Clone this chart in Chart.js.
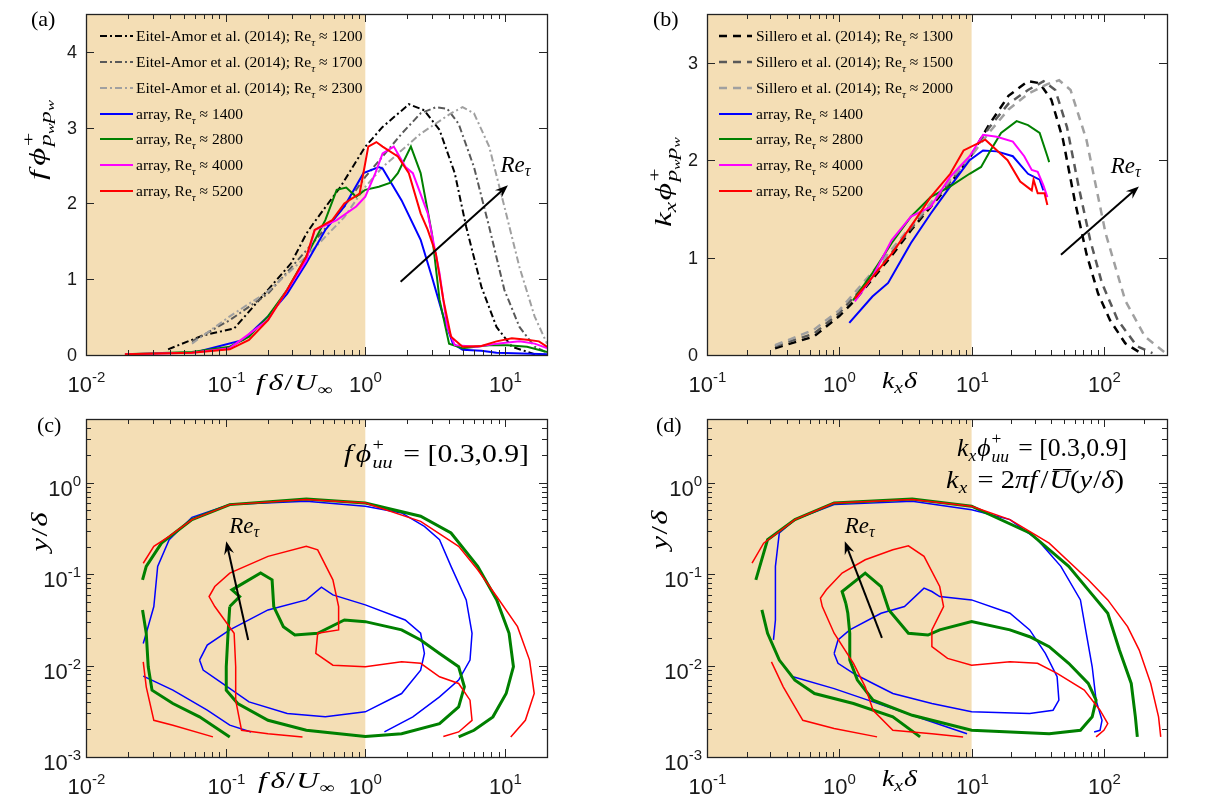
<!DOCTYPE html>
<html><head><meta charset="utf-8">
<script src="https://cdn.jsdelivr.net/npm/chart.js@4.4.1/dist/chart.umd.min.js"></script>
<style>
html,body{margin:0;padding:0;background:#fff;}
body{width:1213px;height:807px;overflow:hidden;position:relative;}
canvas{position:absolute;}
</style></head>
<body>
<canvas id="ca" width="606" height="403" style="left:0;top:0"></canvas>
<canvas id="cb" width="607" height="403" style="left:606px;top:0"></canvas>
<canvas id="cc" width="606" height="404" style="left:0;top:403px"></canvas>
<canvas id="cd" width="607" height="404" style="left:606px;top:403px"></canvas>
<script>
// ---------------- DATA ----------------
// Panel (a): f*phi_pwpw vs f*delta/U_inf
const a_e1200_x = [0.0387,0.0692,0.115,0.201,0.294,0.378,0.434,0.665,1.0,1.33,1.94,2.05,2.64,3.40,4.37,5.28,6.78,8.7,11.2,16.3,20];
const a_e1200_y = [0.075,0.26,0.35,0.86,1.21,1.60,1.76,2.22,2.75,3.01,3.27,3.31,3.23,2.97,2.40,1.69,0.90,0.37,0.11,0.01,0.0];
const a_e1700_x = [0.0574,0.107,0.201,0.378,0.708,1.0,1.33,1.82,2.49,3.20,3.86,4.66,6.0,7.71,9.9,12.7,16.3,20];
const a_e1700_y = [0.18,0.46,0.81,1.38,1.96,2.35,2.62,2.92,3.19,3.27,3.25,3.05,2.48,1.69,0.86,0.37,0.11,0.03];
const a_e2300_x = [0.0574,0.107,0.201,0.378,0.708,1.0,1.33,2.49,4.11,4.97,6.0,7.71,9.9,12.7,16.3,20];
const a_e2300_y = [0.15,0.51,0.84,1.30,1.82,2.22,2.48,2.92,3.19,3.27,3.19,2.75,1.96,1.16,0.51,0.15];
const a_r1400_x = [0.0672,0.134,0.201,0.276,0.378,0.517,0.708,0.97,1.25,1.33,1.82,2.49,3.0,3.62,4.24,4.97,6.78,8.7,20];
const a_r1400_y = [0.057,0.2,0.51,0.81,1.21,1.65,1.96,2.40,2.48,2.46,2.04,1.52,1.03,0.51,0.15,0.07,0.057,0.03,0.01];
const a_r2800_x = [0.019,0.0574,0.107,0.147,0.201,0.276,0.378,0.517,0.624,0.73,0.86,1.0,1.25,1.5,1.71,2.12,2.49,3.0,3.4,3.98,4.97,7.71,10.5,14.4,20];
const a_r2800_y = [0.01,0.04,0.11,0.24,0.51,0.86,1.30,1.78,2.18,2.21,2.09,2.18,2.22,2.27,2.40,2.75,2.40,1.60,0.73,0.15,0.09,0.13,0.13,0.11,0.04];
const a_r4000_x = [0.019,0.0574,0.107,0.201,0.378,0.434,0.624,0.86,1.0,1.18,1.33,1.60,1.94,2.19,2.8,3.4,3.86,4.37,6.3,8.7,12.7,16.3,20];
const a_r4000_y = [0.01,0.03,0.09,0.46,1.25,1.65,1.78,1.96,2.09,2.40,2.66,2.75,2.48,2.40,1.87,1.08,0.37,0.13,0.11,0.15,0.18,0.15,0.09];
const a_r5200_x = [0.019,0.0574,0.107,0.147,0.201,0.276,0.378,0.434,0.58,0.708,0.91,1.05,1.2,1.33,1.71,2.05,2.49,2.8,3.2,3.62,4.11,4.97,6.78,8.7,11.2,14.4,17.5,20];
const a_r5200_y = [0.01,0.03,0.075,0.2,0.46,0.86,1.30,1.65,1.78,2.0,2.13,2.75,2.81,2.75,2.62,2.40,1.87,1.65,1.34,0.73,0.24,0.11,0.12,0.18,0.22,0.2,0.18,0.11];

// Panel (b): kx*phi_pwpw vs kx*delta
const b_s1300_x = [0.327,0.644,1.0,1.29,1.78,2.49,3.48,4.9,6.9,9.66,13.5,19.0,26.7,32.7,40.1,49.1,60.1,73.8,90.4,111,145,190];
const b_s1300_y = [0.07,0.19,0.40,0.55,0.78,1.02,1.28,1.52,1.76,2.02,2.36,2.66,2.81,2.79,2.62,2.21,1.59,1.04,0.63,0.36,0.12,0.02];
const b_s1500_x = [0.327,0.644,1.0,1.78,3.48,6.9,9.66,13.5,19.0,26.7,35.0,42.9,52.6,64.4,78.8,96.6,127,178,233];
const b_s1500_y = [0.09,0.22,0.43,0.80,1.30,1.78,2.02,2.33,2.58,2.72,2.81,2.72,2.34,1.73,1.18,0.74,0.36,0.09,0.02];
const b_s2000_x = [0.327,0.644,1.0,1.78,6.9,9.66,13.5,19.0,26.7,37.4,45.9,56.0,73.8,103,145,204,286];
const b_s2000_y = [0.10,0.26,0.46,0.85,1.80,2.02,2.28,2.52,2.68,2.78,2.82,2.72,2.21,1.25,0.56,0.19,0.03];
const b_r1400_x = [1.19,1.78,2.34,3.48,4.9,6.9,9.66,12.2,15.5,20.5,26.7,32.7,34.9];
const b_r1400_y = [0.33,0.60,0.74,1.15,1.45,1.73,2.0,2.10,2.09,2.04,1.86,1.80,1.69];
const b_r2800_x = [1.27,1.78,2.49,3.48,4.9,6.9,9.66,11.8,13.5,16.7,21.9,26.7,32.7,37.4,38.6];
const b_r2800_y = [0.56,0.84,1.15,1.42,1.62,1.73,1.86,1.93,2.07,2.28,2.40,2.36,2.28,2.04,1.98];
const b_r4000_x = [1.31,1.78,2.49,3.48,4.9,6.9,9.66,12.2,15.5,20.5,25,28.5,31.6,34.9,37.4];
const b_r4000_y = [0.55,0.80,1.18,1.42,1.52,1.83,2.04,2.26,2.24,2.19,2.04,1.90,1.88,1.74,1.62];
const b_r5200_x = [1.31,1.78,2.49,3.48,4.9,6.9,8.7,12.7,18.7,23.3,28.5,29.4,31.6,35.6,37.4];
const b_r5200_y = [0.58,0.80,1.04,1.32,1.62,1.86,2.10,2.21,2.0,1.78,1.69,1.80,1.66,1.66,1.54];

// Panel (c): contours y/delta vs f*delta/U_inf  ([x, y] pairs)
const c_blueOuter = [[0.0257,0.0175],[0.027,0.0226],[0.0306,0.0443],[0.0326,0.122],[0.0394,0.239],[0.0574,0.42],[0.107,0.58],[0.378,0.63],[1.0,0.555],[1.82,0.469],[2.65,0.334],[3.40,0.239],[4.11,0.122],[5.28,0.0524],[5.81,0.0226],[5.62,0.0115],[4.66,0.00694],[3.40,0.00455],[2.19,0.00275],[1.37,0.00188]];
const c_blueLower = [[0.0257,0.00767],[0.0419,0.00539],[0.0738,0.00325],[0.107,0.00223],[0.152,0.00188]];
const c_blueInner = [[0.065,0.0115],[0.0738,0.0168],[0.107,0.0246],[0.201,0.0407],[0.378,0.0524],[0.485,0.0722],[0.586,0.0594],[1.0,0.0462],[1.93,0.0316],[2.49,0.0226],[2.65,0.0136],[2.49,0.00893],[1.82,0.00495],[1.0,0.00312],[0.517,0.00275],[0.276,0.00299],[0.147,0.00401],[0.0948,0.00638],[0.069,0.00893],[0.065,0.0115]];
const c_greenOuter = [[0.0254,0.0869],[0.027,0.122],[0.0347,0.219],[0.0574,0.396],[0.107,0.578],[0.378,0.667],[1.0,0.603],[2.49,0.431],[4.11,0.283],[6.38,0.122],[8.73,0.0524],[10.7,0.0226],[11.5,0.00972],[10.2,0.00495],[8.2,0.00275],[6.0,0.00196],[4.66,0.00166]];
const c_greenLower = [[0.0254,0.0407],[0.027,0.0226],[0.0279,0.00972],[0.0297,0.00539],[0.0419,0.00385],[0.065,0.00275],[0.107,0.00166]];
const c_greenInner = [[0.107,0.0443],[0.126,0.057],[0.111,0.0675],[0.178,0.103],[0.215,0.0869],[0.221,0.0443],[0.259,0.0267],[0.313,0.0216],[0.456,0.0226],[0.708,0.0316],[1.0,0.0303],[1.82,0.0246],[2.49,0.0191],[3.40,0.0136],[4.66,0.00972],[5.12,0.00586],[4.66,0.00354],[3.40,0.00232],[1.82,0.0018],[1.0,0.00168],[0.378,0.00196],[0.201,0.00252],[0.122,0.00385],[0.101,0.00539],[0.101,0.00972],[0.104,0.0226],[0.107,0.0443]];
const c_redOuter = [[0.0257,0.132],[0.0306,0.202],[0.0394,0.26],[0.0574,0.396],[0.107,0.578],[0.378,0.656],[1.0,0.603],[2.49,0.379],[4.66,0.202],[6.38,0.112],[8.73,0.057],[12.3,0.0267],[15.0,0.0115],[16.2,0.00495],[14.0,0.00252],[11.0,0.00166]];
const c_redLower = [[0.0257,0.011],[0.027,0.00586],[0.0306,0.00252],[0.0419,0.00223],[0.0811,0.00166]];
const c_redInner = [[0.355,0.00166],[0.201,0.0018],[0.130,0.00196],[0.118,0.00419],[0.118,0.00972],[0.115,0.0226],[0.0836,0.0443],[0.0761,0.057],[0.0836,0.0734],[0.107,0.103],[0.201,0.157],[0.378,0.202],[0.456,0.185],[0.586,0.0869],[0.644,0.0443],[0.644,0.0246],[0.456,0.0226],[0.442,0.0136],[0.586,0.0101],[1.0,0.00972],[1.82,0.011],[2.49,0.0106],[3.40,0.00755],[4.66,0.00638],[5.62,0.00419],[5.81,0.00252],[4.66,0.00188],[3.62,0.00168]];

// Panel (d): contours y/delta vs kx*delta
const d_blueOuter = [[0.318,0.0191],[0.329,0.0316],[0.329,0.122],[0.352,0.283],[0.462,0.396],[0.914,0.578],[3.56,0.63],[10,0.509],[19.5,0.396],[31.5,0.239],[47.3,0.122],[66.5,0.0524],[73.6,0.0226],[81.6,0.00972],[87.3,0.00419],[96.8,0.00252],[93.5,0.00196],[84.4,0.00188]];
const d_blueLower = [[0.447,0.00755],[0.914,0.0056],[1.80,0.00401],[3.56,0.00286],[7.04,0.00205],[9.24,0.0018]];
const d_blueInner = [[0.914,0.0136],[0.978,0.0191],[1.20,0.0246],[2.07,0.0374],[3.11,0.0443],[4.37,0.0704],[5.01,0.0647],[5.74,0.057],[10,0.0524],[19.5,0.0374],[27.5,0.0246],[36.1,0.0136],[44.3,0.00755],[45.7,0.00419],[41.3,0.00325],[27.5,0.00299],[10,0.00312],[5.01,0.00385],[2.54,0.00495],[1.80,0.00638],[1.28,0.00821],[0.978,0.0106],[0.914,0.0136]];
const d_greenOuter = [[0.234,0.0869],[0.287,0.239],[0.462,0.396],[0.914,0.603],[3.56,0.667],[10,0.555],[27.5,0.283],[54.2,0.122],[76.2,0.0675],[107,0.0374],[131,0.0148],[161,0.00638],[173,0.00275],[179,0.00166]];
const d_greenLower = [[0.26,0.0407],[0.287,0.0226],[0.352,0.0115],[0.462,0.00694],[0.65,0.00495],[1.28,0.00385],[2.54,0.00275],[4.08,0.00166]];
const d_greenInner = [[1.12,0.0482],[1.05,0.0647],[1.57,0.103],[2.07,0.0734],[2.37,0.0407],[3.33,0.0226],[4.68,0.0216],[5.74,0.0246],[10,0.0303],[19.5,0.0246],[27.5,0.0207],[38.6,0.0161],[54.2,0.0106],[76.2,0.00638],[87.3,0.00419],[81.6,0.00275],[66.5,0.00196],[38.6,0.0018],[10,0.00196],[3.56,0.00286],[1.80,0.00419],[1.37,0.00694],[1.20,0.0115],[1.20,0.0226],[1.16,0.0374],[1.12,0.0482]];
const d_redOuter = [[0.219,0.132],[0.268,0.219],[0.462,0.396],[0.914,0.603],[3.56,0.656],[10,0.555],[19.5,0.396],[38.6,0.219],[76.2,0.0869],[107,0.0524],[151,0.0267],[185,0.0148],[226,0.00638],[259,0.00275],[269,0.00166]];
const d_redLower = [[0.307,0.011],[0.377,0.00586],[0.53,0.00252],[0.914,0.00205],[1.93,0.00166]];
const d_redInner = [[8.63,0.00166],[5.01,0.0018],[2.54,0.00196],[1.80,0.00325],[1.57,0.00586],[1.28,0.0106],[0.914,0.0226],[0.744,0.0443],[0.720,0.0547],[0.798,0.0675],[1.05,0.103],[1.57,0.144],[2.54,0.185],[3.33,0.205],[4.37,0.157],[5.74,0.0734],[6.14,0.0443],[5.01,0.0246],[5.01,0.0161],[6.58,0.012],[10,0.0101],[19.5,0.011],[31.5,0.0106],[44.3,0.00821],[71.1,0.00539],[93.5,0.00325],[107,0.00232],[100,0.00196],[87.3,0.00166]];

// legend texts
const legendA_names = ['Eitel-Amor et al. (2014); Re','Eitel-Amor et al. (2014); Re','Eitel-Amor et al. (2014); Re','array, Re','array, Re','array, Re','array, Re'];
const legendA_re = ['1200','1700','2300','1400','2800','4000','5200'];
const legendB_names = ['Sillero et al. (2014); Re','Sillero et al. (2014); Re','Sillero et al. (2014); Re','array, Re','array, Re','array, Re','array, Re'];
const legendB_re = ['1300','1500','2000','1400','2800','4000','5200'];

// axis limits / ticks
const a_xlim = [0.01, 20], a_ylim = [0, 4.5], a_yticks = [0,1,2,3,4];
const b_xlim = [0.1, 300], b_ylim = [0, 3.5], b_yticks = [0,1,2,3];
const c_xlim = [0.01, 20], c_ylim = [0.001, 5];
const d_xlim = [0.1, 300], d_ylim = [0.001, 5];

// ---------------- HELPERS ----------------
const SERIF = '"Liberation Serif","DejaVu Serif","Times New Roman",serif';
const SANS = '"Liberation Sans",Arial,"DejaVu Sans",sans-serif';
const I = px => `italic ${px}px ${SERIF}`;
const R = px => `${px}px ${SERIF}`;
const S = px => `${px}px ${SANS}`;
const SHADE = 'rgb(244,222,181)';
const BLUE = '#0000ff', GREEN = '#008000', MAG = '#ff00ff', RED = '#ff0000';

const xy = (xs, ys) => xs.map((x, i) => ({x, y: ys[i]}));
const pairs = p => p.map(q => ({x: q[0], y: q[1]}));

function richWidth(ctx, segs){
  let w = 0;
  for (const s of segs){ if (s.noAdv) continue; ctx.font = s.f; w += ctx.measureText(s.t).width + (s.sp || 0); }
  return w;
}
function rich(ctx, segs, x, y, align, targetW){
  const w = richWidth(ctx, segs);
  const sx = targetW ? targetW / w : 1;
  const x0 = align === 'right' ? x - w * sx : (align === 'center' ? x - w * sx / 2 : x);
  ctx.save();
  ctx.translate(x0, y); ctx.scale(sx, 1);
  ctx.textAlign = 'left'; ctx.textBaseline = 'alphabetic';
  let cx = 0;
  for (const s of segs){
    ctx.font = s.f;
    ctx.fillText(s.t, cx, s.dy || 0);
    if (s.over){ const ww = ctx.measureText(s.t).width; ctx.fillRect(cx + 3, (s.dy||0) - 19, ww - 2, 1.3); }
    if (!s.noAdv) cx += ctx.measureText(s.t).width + (s.sp || 0);
  }
  ctx.restore();
}
function logTicks(min, max){
  const out = [];
  for (let d = Math.floor(Math.log10(min)); d <= Math.ceil(Math.log10(max)); d++){
    for (let m = 1; m <= 9; m++){
      const v = m * Math.pow(10, d);
      if (v >= min * 0.999 && v <= max * 1.001) out.push({v, major: m === 1, d});
    }
  }
  return out;
}
function arrow(ctx, x1, y1, x2, y2){
  const ang = Math.atan2(y2 - y1, x2 - x1), c = Math.cos(ang), s = Math.sin(ang);
  const L = 13, W = 5;
  ctx.save();
  ctx.strokeStyle = '#000'; ctx.fillStyle = '#000'; ctx.lineWidth = 2;
  ctx.beginPath(); ctx.moveTo(x1, y1); ctx.lineTo(x2 - L * 0.6 * c, y2 - L * 0.6 * s); ctx.stroke();
  ctx.beginPath();
  ctx.moveTo(x2, y2);
  ctx.lineTo(x2 - L * c + W * s, y2 - L * s - W * c);
  ctx.lineTo(x2 - L * 0.65 * c, y2 - L * 0.65 * s);
  ctx.lineTo(x2 - L * c - W * s, y2 - L * s + W * c);
  ctx.closePath(); ctx.fill();
  ctx.restore();
}
const expStr = d => (d < 0 ? '-' : '') + Math.abs(d);
const powLabel = d => [{t:'10', f:S(22)}, {t:expStr(d), f:S(15), dy:-10}];
const reSub = [{t:'Re', f:I(23)}, {t:'τ', f:I(16), dy:4}];

// panel-specific decorations (page coordinates)
const PANEL = {
  ca: {off:[0,0], shadeTo:1, ylog:false, yticks:a_yticks,
       tag:{t:'(a)', x:31, y:26},
       xTitle:{segs:[{t:'f',f:I(23),sp:3},{t:'δ',f:I(23),sp:1},{t:'/',f:R(23),sp:1},{t:'U',f:I(23),sp:1},{t:'∞',f:R(16),dy:5}], x:256, y:390, w:77},
       yTitle:{segs:[{t:'f',f:I(23),sp:3},{t:'ϕ',f:I(23),sp:1},{t:'+',f:R(16),dy:-11,noAdv:true},{t:'p',f:I(16),dy:6},{t:'w',f:I(11),dy:9},{t:'p',f:I(16),dy:6},{t:'w',f:I(11),dy:9}], x:45, y:140, w:80},
       arrow:[1.79,0.967,10.5,2.24], re:[9.3,2.41],
       legend:{names:legendA_names, vals:legendA_re, x0:100, x1:133, tx:136, rows:[36,62,88,114,139,165,191]}},
  cb: {off:[606,0], shadeTo:10, ylog:false, yticks:b_yticks,
       tag:{t:'(b)', x:653, y:26},
       xTitle:{segs:[{t:'k',f:I(23)},{t:'x',f:I(16),dy:5,sp:1},{t:'δ',f:I(23)}], x:882, y:388, w:35},
       yTitle:{segs:[{t:'k',f:I(23)},{t:'x',f:I(16),dy:5,sp:1},{t:'ϕ',f:I(23),sp:1},{t:'+',f:R(16),dy:-11,noAdv:true},{t:'p',f:I(16),dy:6},{t:'w',f:I(11),dy:9},{t:'p',f:I(16),dy:6},{t:'w',f:I(11),dy:9}], x:671, y:182, w:90},
       arrow:[47.4,1.03,184,1.73], re:[112.7,1.87],
       legend:{names:legendB_names, vals:legendB_re, x0:719, x1:752, tx:756, rows:[36,62,88,114,139,165,191]}},
  cc: {off:[0,403], shadeTo:1, ylog:true,
       tag:{t:'(c)', x:37, y:432},
       xTitle:{segs:[{t:'f',f:I(23),sp:3},{t:'δ',f:I(23),sp:1},{t:'/',f:R(23),sp:1},{t:'U',f:I(23),sp:1},{t:'∞',f:R(16),dy:5}], x:258, y:788, w:77},
       yTitle:{segs:[{t:'y',f:I(23),sp:1},{t:'/',f:R(23),sp:1},{t:'δ',f:I(23)}], x:47, y:532, w:39},
       arrow:[0.145,0.0191,0.101,0.229], re:[0.106,0.282],
       notes:[{segs:[{t:'f',f:I(25),sp:3},{t:'ϕ',f:I(25),sp:1},{t:'+',f:R(17),dy:-12,noAdv:true},{t:'uu',f:I(17),dy:6,sp:9},{t:'= [0.3,0.9]',f:R(25)}], x:529, y:462, w:185}]},
  cd: {off:[606,403], shadeTo:10, ylog:true,
       tag:{t:'(d)', x:656, y:432},
       xTitle:{segs:[{t:'k',f:I(23)},{t:'x',f:I(16),dy:5,sp:1},{t:'δ',f:I(23)}], x:882, y:786, w:35},
       yTitle:{segs:[{t:'y',f:I(23),sp:1},{t:'/',f:R(23),sp:1},{t:'δ',f:I(23)}], x:667, y:530, w:39},
       arrow:[2.10,0.0201,1.10,0.229], re:[1.10,0.282],
       notes:[{segs:[{t:'k',f:I(25)},{t:'x',f:I(17),dy:5,sp:1},{t:'ϕ',f:I(25),sp:1},{t:'+',f:R(17),dy:-12,noAdv:true},{t:'uu',f:I(17),dy:6,sp:9},{t:'= [0.3,0.9]',f:R(25)}], x:1127, y:456, w:170},
              {segs:[{t:'k',f:I(25)},{t:'x',f:I(17),dy:5,sp:9},{t:'= 2',f:R(25)},{t:'π',f:I(25)},{t:'f',f:I(25),sp:3},{t:'/',f:R(25),sp:1},{t:'U',f:I(25),over:true},{t:'(',f:R(25)},{t:'y',f:I(25),sp:1},{t:'/',f:R(25)},{t:'δ',f:I(25)},{t:')',f:R(25)}], x:1124, y:488, w:178}]}
};

const framePlugin = {
  id: 'frame',
  beforeDatasetsDraw(chart){
    const P = PANEL[chart.canvas.id]; const ctx = chart.ctx, a = chart.chartArea;
    const xr = chart.scales.x.getPixelForValue(P.shadeTo);
    ctx.save(); ctx.fillStyle = SHADE;
    ctx.fillRect(a.left, a.top, xr - a.left, a.bottom - a.top);
    ctx.restore();
  },
  afterDatasetsDraw(chart){
    const P = PANEL[chart.canvas.id]; const ctx = chart.ctx;
    const xs = chart.scales.x, ys = chart.scales.y;
    ctx.save();
    const ar = P.arrow;
    arrow(ctx, xs.getPixelForValue(ar[0]), ys.getPixelForValue(ar[1]), xs.getPixelForValue(ar[2]), ys.getPixelForValue(ar[3]));
    ctx.fillStyle = '#000';
    rich(ctx, reSub, xs.getPixelForValue(P.re[0]), ys.getPixelForValue(P.re[1]), 'left');
    ctx.restore();
  },
  afterDraw(chart){
    const P = PANEL[chart.canvas.id]; const ctx = chart.ctx, a = chart.chartArea;
    const xs = chart.scales.x, ys = chart.scales.y;
    ctx.save();
    ctx.strokeStyle = '#262626'; ctx.fillStyle = '#1a1a1a'; ctx.lineWidth = 1;
    const L = (x1, y1, x2, y2) => { ctx.beginPath(); ctx.moveTo(x1, y1); ctx.lineTo(x2, y2); ctx.stroke(); };
    for (const t of logTicks(xs.min, xs.max)){
      const px = Math.round(xs.getPixelForValue(t.v)) + 0.5, len = t.major ? 8 : 5;
      L(px, a.bottom, px, a.bottom - len); L(px, a.top, px, a.top + len);
      if (t.major) rich(ctx, powLabel(t.d), px, a.bottom + 37, 'center');
    }
    if (P.ylog){
      for (const t of logTicks(ys.min, ys.max)){
        const py = Math.round(ys.getPixelForValue(t.v)) + 0.5, len = t.major ? 8 : 5;
        L(a.left, py, a.left + len, py); L(a.right, py, a.right - len, py);
        if (t.major) rich(ctx, powLabel(t.d), a.left - 5, py + 12, 'right');
      }
    } else {
      ctx.font = S(18); ctx.textAlign = 'right'; ctx.textBaseline = 'middle';
      for (const v of P.yticks){
        const py = Math.round(ys.getPixelForValue(v)) + 0.5;
        L(a.left, py, a.left + 8, py); L(a.right, py, a.right - 8, py);
        ctx.fillText(String(v), a.left - 9, py + 1);
      }
    }
    ctx.lineWidth = 1.3; ctx.strokeStyle = '#222';
    ctx.strokeRect(Math.round(a.left) + 0.5, Math.round(a.top) + 0.5, Math.round(a.right - a.left), Math.round(a.bottom - a.top));
    ctx.translate(-P.off[0], -P.off[1]);
    ctx.fillStyle = '#000';
    ctx.font = R(22); ctx.textAlign = 'left'; ctx.textBaseline = 'alphabetic';
    ctx.fillText(P.tag.t, P.tag.x, P.tag.y);
    rich(ctx, P.xTitle.segs, P.xTitle.x, P.xTitle.y, 'left', P.xTitle.w);
    ctx.save(); ctx.translate(P.yTitle.x, P.yTitle.y); ctx.rotate(-Math.PI / 2);
    rich(ctx, P.yTitle.segs, 0, 0, 'center', P.yTitle.w); ctx.restore();
    if (P.notes) for (const n of P.notes) rich(ctx, n.segs, n.x, n.y, 'right', n.w);
    if (P.legend){
      const lg = P.legend, ds = chart.data.datasets;
      for (let i = 0; i < lg.rows.length; i++){
        const d = ds[i], y = lg.rows[i];
        ctx.save(); ctx.strokeStyle = d.borderColor; ctx.lineWidth = d.borderWidth; ctx.setLineDash(d.borderDash || []);
        L(lg.x0, y, lg.x1, y); ctx.restore();
        rich(ctx, [{t:lg.names[i], f:R(15.5)}, {t:'τ', f:I(11), dy:5}, {t:' ≈ ' + lg.vals[i], f:R(15.5)}], lg.tx, y + 5, 'left');
      }
    }
    ctx.restore();
  }
};

function lineDs(label, data, color, width, dash){
  return {label, data, borderColor: color, backgroundColor: color, borderWidth: width, borderDash: dash || [], showLine: true, pointRadius: 0, fill: false, tension: 0};
}
function makeChart(id, datasets, xlim, ylim, ylog, pad){
  datasets.forEach((d, i) => d.order = datasets.length - i);
  return new Chart(document.getElementById(id), {
    type: 'scatter',
    data: {datasets},
    options: {
      responsive: false, animation: false, devicePixelRatio: 1, events: [],
      layout: {padding: pad},
      scales: {
        x: {type: 'logarithmic', min: xlim[0], max: xlim[1], display: false},
        y: {type: ylog ? 'logarithmic' : 'linear', min: ylim[0], max: ylim[1], display: false}
      },
      plugins: {legend: {display: false}, tooltip: {enabled: false}}
    },
    plugins: [framePlugin]
  });
}

const DD = [7,3,2,3], DS = [8,6];
makeChart('ca', [
  lineDs('Eitel-Amor 1200', xy(a_e1200_x, a_e1200_y), '#000000', 2, DD),
  lineDs('Eitel-Amor 1700', xy(a_e1700_x, a_e1700_y), '#595959', 2, DD),
  lineDs('Eitel-Amor 2300', xy(a_e2300_x, a_e2300_y), '#a0a0a0', 2, DD),
  lineDs('array 1400', xy(a_r1400_x, a_r1400_y), BLUE, 2),
  lineDs('array 2800', xy(a_r2800_x, a_r2800_y), GREEN, 2),
  lineDs('array 4000', xy(a_r4000_x, a_r4000_y), MAG, 2),
  lineDs('array 5200', xy(a_r5200_x, a_r5200_y), RED, 2)
], a_xlim, a_ylim, false, {left:86, top:14, right:59, bottom:48});

makeChart('cb', [
  lineDs('Sillero 1300', xy(b_s1300_x, b_s1300_y), '#000000', 2.5, DS),
  lineDs('Sillero 1500', xy(b_s1500_x, b_s1500_y), '#595959', 2.5, DS),
  lineDs('Sillero 2000', xy(b_s2000_x, b_s2000_y), '#a0a0a0', 2.5, DS),
  lineDs('array 1400', xy(b_r1400_x, b_r1400_y), BLUE, 2),
  lineDs('array 2800', xy(b_r2800_x, b_r2800_y), GREEN, 2),
  lineDs('array 4000', xy(b_r4000_x, b_r4000_y), MAG, 2),
  lineDs('array 5200', xy(b_r5200_x, b_r5200_y), RED, 2)
], b_xlim, b_ylim, false, {left:101, top:14, right:46, bottom:48});

makeChart('cc', [
  lineDs('1400 outer', pairs(c_blueOuter), BLUE, 1.5),
  lineDs('1400 lower', pairs(c_blueLower), BLUE, 1.5),
  lineDs('1400 inner', pairs(c_blueInner), BLUE, 1.5),
  lineDs('2800 outer', pairs(c_greenOuter), GREEN, 3),
  lineDs('2800 lower', pairs(c_greenLower), GREEN, 3),
  lineDs('2800 inner', pairs(c_greenInner), GREEN, 3),
  lineDs('5200 outer', pairs(c_redOuter), RED, 1.5),
  lineDs('5200 lower', pairs(c_redLower), RED, 1.5),
  lineDs('5200 inner', pairs(c_redInner), RED, 1.5)
], c_xlim, c_ylim, true, {left:86, top:16, right:59, bottom:50});

makeChart('cd', [
  lineDs('1400 outer', pairs(d_blueOuter), BLUE, 1.5),
  lineDs('1400 lower', pairs(d_blueLower), BLUE, 1.5),
  lineDs('1400 inner', pairs(d_blueInner), BLUE, 1.5),
  lineDs('2800 outer', pairs(d_greenOuter), GREEN, 3),
  lineDs('2800 lower', pairs(d_greenLower), GREEN, 3),
  lineDs('2800 inner', pairs(d_greenInner), GREEN, 3),
  lineDs('5200 outer', pairs(d_redOuter), RED, 1.5),
  lineDs('5200 lower', pairs(d_redLower), RED, 1.5),
  lineDs('5200 inner', pairs(d_redInner), RED, 1.5)
], d_xlim, d_ylim, true, {left:101, top:16, right:46, bottom:50});
</script>
</body></html>
